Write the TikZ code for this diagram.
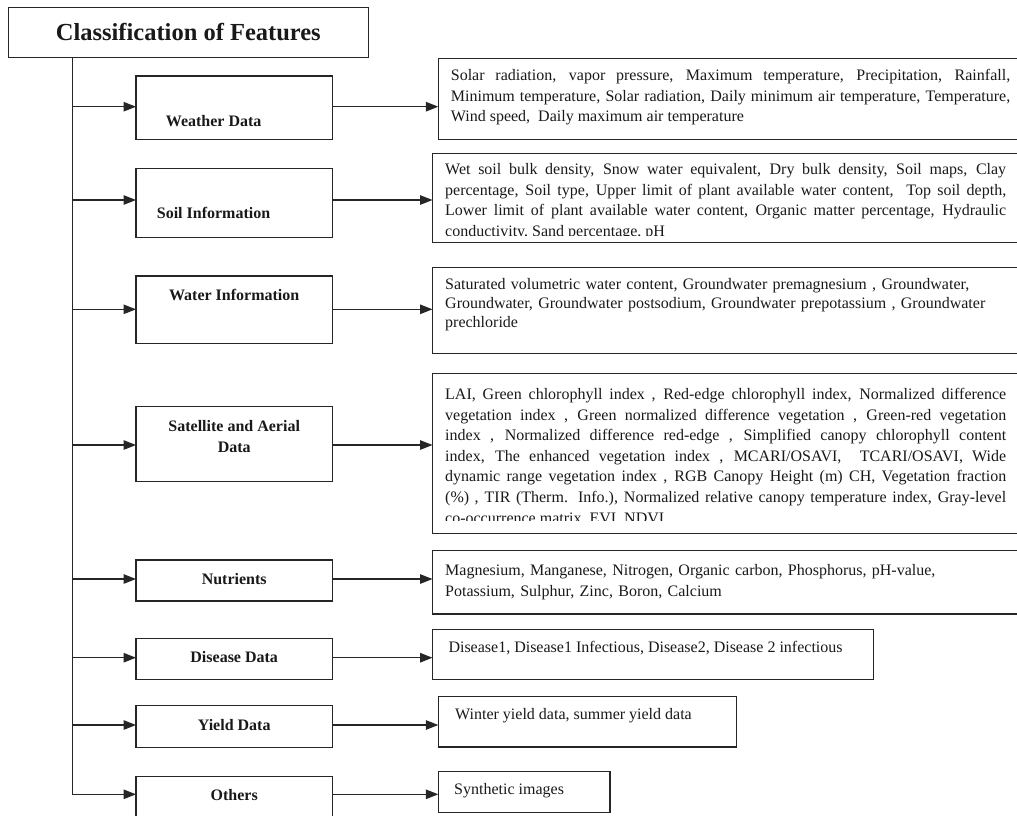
\documentclass[tikz,border=0pt]{standalone}
\usepackage{fontspec}
\setmainfont{Liberation Serif}
\usetikzlibrary{arrows.meta,fit}
\begin{document}
\begin{tikzpicture}[x=1pt,y=-1pt,
  frame/.style={draw=black!85,line width=1.3pt,rectangle,inner sep=0pt,outer sep=0pt},
  headlbl/.style={font=\fontsize{24.5}{28}\selectfont\bfseries,text=black!90,inner sep=0pt,anchor=base},
  catlbl/.style={font=\fontsize{16}{21}\selectfont\bfseries,text=black!90,inner sep=0pt},
  info/.style={font=\fontsize{16}{20.5}\selectfont,text=black!90,inner sep=0pt,anchor=base west},
  trunk/.style={draw=black!85,line width=1.3pt},
  feed/.style={draw=black!85,line width=1.3pt,-{Triangle[length=12.5pt,width=9.5pt]}},
]
\useasboundingbox (0,0) rectangle (1017,815);
\clip (0,0) rectangle (1017,815);

% heading
\node[frame, fit={(8.3,7.3) (368.3,57.7)}] (title) {};
\node[headlbl] (titlel) at (188.3,40) {Classification of Features};

% category boxes
\node[frame, fit={(136,76) (332.3,139.3)}] (wd) {};
\node[catlbl, anchor=base west] (wdl) at (165.7,126) {Weather Data};
\node[frame, fit={(136,168.3) (332.3,237.3)}] (si) {};
\node[catlbl, anchor=base west] (sil) at (156.7,218) {Soil Information};
\node[frame, fit={(136,276) (332.3,343.3)}] (wi) {};
\node[catlbl, anchor=base] (wil) at (234.2,300) {Water Information};
\node[frame, fit={(136,406.7) (332.3,481.7)}] (sa) {};
\node[catlbl, anchor=base, align=center] (sal) at (234.2,452.8) {Satellite and Aerial\\Data};
\node[frame, fit={(136,560) (332.3,601)}] (nu) {};
\node[catlbl, anchor=base] (nul) at (234.2,584.4) {Nutrients};
\node[frame, fit={(136,638.3) (332.3,679.3)}] (dd) {};
\node[catlbl, anchor=base] (ddl) at (234.2,662.2) {Disease Data};
\node[frame, fit={(136,705.7) (332.3,747.3)}] (yd) {};
\node[catlbl, anchor=base] (ydl) at (234.2,730.4) {Yield Data};
\node[frame, fit={(136,776.7) (332.3,824)}] (ot) {};
\node[catlbl, anchor=base] (otl) at (234.2,800) {Others};

% detail boxes
\node[frame, fit={(438.3,58.3) (1030,139.3)}] (wdi) {};
\node[info, text width=559.3pt, align=justify] (wdt) at (450.7,80.5)
  {Solar radiation, vapor pressure, Maximum temperature, Precipitation, Rainfall,\linebreak
   Minimum temperature, Solar radiation, Daily minimum air temperature, Temperature,\linebreak
   Wind speed,\ \ Daily maximum air temperature};

\node[frame, fit={(432.5,153.3) (1030,242.7)}] (sii) {};
\begin{scope}
  \clip (432.5,153.3) rectangle (1030,235.5);
  \node[info, text width=561pt, align=justify] (sit) at (445,174.5)
    {Wet soil bulk density, Snow water equivalent, Dry bulk density, Soil maps, Clay\linebreak
     percentage, Soil type, Upper limit of plant available water content,\ \ Top soil depth,\linebreak
     Lower limit of plant available water content, Organic matter percentage, Hydraulic\linebreak
     conductivity, Sand percentage, pH};
\end{scope}

\node[frame, fit={(432.5,267.3) (1030,353.3)}] (wii) {};
\node[info, text width=561pt, align=left, font=\fontsize{16}{18.8}\selectfont] (wit) at (445,289.5)
  {Saturated volumetric water content, Groundwater premagnesium , Groundwater,\\
   Groundwater, Groundwater postsodium, Groundwater prepotassium , Groundwater\\
   prechloride};

\node[frame, fit={(432.5,373.3) (1030,533.3)}] (sai) {};
\begin{scope}
  \clip (432.5,373.3) rectangle (1030,520.5);
  \node[info, text width=561pt, align=justify, font=\fontsize{16}{20.6}\selectfont] (sat) at (445,399.5)
    {LAI, Green chlorophyll index , Red-edge chlorophyll index, Normalized difference\linebreak
     vegetation index , Green normalized difference vegetation , Green-red vegetation\linebreak
     index , Normalized difference red-edge , Simplified canopy chlorophyll content\linebreak
     index, The enhanced vegetation index , MCARI/OSAVI,\ \ TCARI/OSAVI, Wide\linebreak
     dynamic range vegetation index , RGB Canopy Height (m) CH, Vegetation fraction\linebreak
     (\%) , TIR (Therm. Info.), Normalized relative canopy temperature index, Gray-level\linebreak
     co-occurrence matrix, EVI, NDVI};
\end{scope}

\node[frame, fit={(432.5,550.7) (1030,614)}] (nui) {};
\node[info, text width=561pt, align=left] (nut) at (445,575.5)
  {Magnesium, Manganese, Nitrogen, Organic carbon, Phosphorus, pH-value,\\
   Potassium, Sulphur, Zinc, Boron, Calcium};

\node[frame, fit={(432.5,629.3) (873.3,679.3)}] (ddi) {};
\node[info] (ddt) at (448.3,652.5) {Disease1, Disease1 Infectious, Disease2, Disease 2 infectious};

\node[frame, fit={(438.3,696.5) (736.7,747)}] (ydi) {};
\node[info] (ydt) at (455,719.5) {Winter yield data, summer yield data};

\node[frame, fit={(438.3,771.7) (610,812.7)}] (oti) {};
\node[info] (ott) at (454,794.5) {Synthetic images};

% trunk and branches
\coordinate (tk) at (72.3,57.7);
\coordinate (r1) at (72.3,106.7);
\coordinate (r2) at (72.3,200);
\coordinate (r3) at (72.3,309.3);
\coordinate (r4) at (72.3,445);
\coordinate (r5) at (72.3,579);
\coordinate (r6) at (72.3,657.7);
\coordinate (r7) at (72.3,725);
\coordinate (r8) at (72.3,794.3);
\draw[trunk] (tk) -- (r8);

\draw[feed] (r1) -- (r1 -| wd.west);
\draw[feed] (r1 -| wd.east) -- (r1 -| wdi.west);
\draw[feed] (r2) -- (r2 -| si.west);
\draw[feed] (r2 -| si.east) -- (r2 -| sii.west);
\draw[feed] (r3) -- (r3 -| wi.west);
\draw[feed] (r3 -| wi.east) -- (r3 -| wii.west);
\draw[feed] (r4) -- (r4 -| sa.west);
\draw[feed] (r4 -| sa.east) -- (r4 -| sai.west);
\draw[feed] (r5) -- (r5 -| nu.west);
\draw[feed] (r5 -| nu.east) -- (r5 -| nui.west);
\draw[feed] (r6) -- (r6 -| dd.west);
\draw[feed] (r6 -| dd.east) -- (r6 -| ddi.west);
\draw[feed] (r7) -- (r7 -| yd.west);
\draw[feed] (r7 -| yd.east) -- (r7 -| ydi.west);
\draw[feed] (r8) -- (r8 -| ot.west);
\draw[feed] (r8 -| ot.east) -- (r8 -| oti.west);
\end{tikzpicture}
\end{document}
